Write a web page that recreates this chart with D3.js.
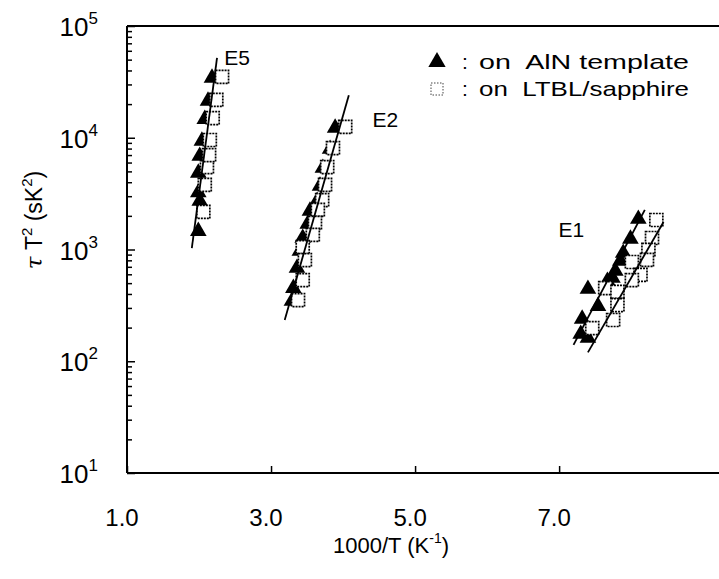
<!DOCTYPE html>
<html>
<head>
<meta charset="utf-8">
<script src="https://cdn.jsdelivr.net/npm/d3@7"></script>
<style>
	body { margin: 0; background: #fff; }
	text { font-family: "Liberation Sans", Arial, sans-serif; fill: #000; }
</style>
</head>
<body>
<script>
// values: [1000/T, tau*T^2]
var e5Tri = [[1.99,1490],[1.99,3300],[2.01,2770],[1.99,4940],[2.01,7000],[2.04,9550],[2.08,15000],[2.125,21800],[2.18,35000]];
var e5Sq  = [[2.06,2170],[2.08,3780],[2.11,5470],[2.14,7000],[2.15,9550],[2.19,15000],[2.24,21800],[2.32,35000]];
var e2Tri = [[3.89,12500],[3.82,8090],[3.72,5470],[3.68,3780],[3.64,2770],[3.54,2260],[3.51,1730],[3.44,1294],[3.40,990],[3.36,697],[3.31,461],[3.29,353]];
var e2Sq  = [[4.03,12500],[3.86,8090],[3.78,5470],[3.75,3780],[3.71,2770],[3.65,2260],[3.61,1730],[3.58,1350],[3.44,1050],[3.47,805],[3.44,533],[3.375,353]];
var e1Tri = [[8.10,1914],[7.99,1268],[7.89,950],[7.85,806],[7.78,656],[7.74,568],[7.67,533],[7.40,452],[7.54,318],[7.32,244],[7.40,165],[7.30,179]];
var e1Sq  = [[8.35,1837],[8.29,1268],[8.24,991],[8.22,806],[8.01,773],[8.13,592],[8.01,533],[7.64,452],[7.81,417],[7.81,318],[7.75,234],[7.46,198]];

// fitted Arrhenius lines, end points
var fits = [
	[[1.90,1030],[2.25,51800]],
	[[3.19,234],[4.08,24000]],
	[[7.20,140],[8.19,2260]],
	[[7.40,120],[8.45,1760]]
];

var levelNames = ["E5","E2","E1"];
var xTicks = [1,3,5,7];
var yDecades = [10,100,1000,10000,100000];
var legendLabels = ["on  AlN template","on  LTBL/sapphire"];

var width = 719, height = 579;

var x = d3.scaleLinear().domain([1, 9.22]).range([127, 719]);
var y = d3.scaleLog().domain([10, 1e5]).range([473, 26]);

var svg = d3.select('body').append('svg')
	.attr('width', width)
	.attr('height', height);

// frame: left, bottom and top lines (right side is cut off in the scan)
var frame = svg.append('g').attr('stroke', '#000').attr('stroke-width', 2).attr('fill', 'none');
frame.append('line').attr('x1', x(1)).attr('x2', x(1)).attr('y1', y(1e5)).attr('y2', y(10));
frame.append('line').attr('x1', x(1)).attr('x2', width).attr('y1', y(10)).attr('y2', y(10));
frame.append('line').attr('x1', x(1)).attr('x2', width).attr('y1', y(1e5)).attr('y2', y(1e5));

// y axis: inside ticks, minor for 2..9
var yMinor = d3.axisLeft(y)
	.tickValues(y.ticks().filter(function (d) { return yDecades.indexOf(d) < 0; }))
	.tickSize(-5)
	.tickFormat('');
var yMajor = d3.axisLeft(y)
	.tickValues(yDecades)
	.tickSize(-8)
	.tickFormat('');

[yMinor, yMajor].forEach(function (ax) {
	var g = svg.append('g')
		.attr('transform', 'translate(' + x(1) + ',0)')
		.call(ax);
	g.select('.domain').remove();
	g.selectAll('.tick line').attr('stroke-width', 1.5);
});

svg.append('g').selectAll('text')
	.data(yDecades)
	.enter().append('text')
	.attr('x', 98)
	.attr('y', function (d) { return y(d) + 10; })
	.attr('text-anchor', 'end')
	.attr('font-size', 26)
	.each(function (d) {
		var t = d3.select(this);
		t.append('tspan').text('10');
		t.append('tspan').attr('font-size', 17).attr('dy', -12).text(Math.round(Math.log10(d)));
	});

// x axis
var xAxis = d3.axisBottom(x)
	.tickValues(xTicks)
	.tickSize(-7)
	.tickFormat('');
var xg = svg.append('g')
	.attr('transform', 'translate(0,' + y(10) + ')')
	.call(xAxis);
xg.select('.domain').remove();
xg.selectAll('.tick line').attr('stroke-width', 1.5);

svg.append('g').selectAll('text')
	.data(xTicks)
	.enter().append('text')
	.attr('x', function (d) { return x(d) - 5; })
	.attr('y', 526)
	.attr('text-anchor', 'middle')
	.attr('font-size', 24)
	.text(function (d) { return d.toFixed(1); });

// axis titles
var xt = svg.append('text')
	.attr('x', 391)
	.attr('y', 553)
	.attr('text-anchor', 'middle')
	.attr('font-size', 22);
xt.append('tspan').text('1000/T (K');
xt.append('tspan').attr('font-size', 14).attr('dy', -10).text('-1');
xt.append('tspan').attr('dy', 10).text(')');

var yt = svg.append('text')
	.attr('transform', 'translate(42,220) rotate(-90)')
	.attr('text-anchor', 'middle')
	.attr('font-size', 23);
yt.append('tspan').attr('font-style', 'italic').attr('font-family', 'DejaVu Serif, serif').text('τ');
yt.append('tspan').text(' T');
yt.append('tspan').attr('font-size', 15).attr('dy', -10).text('2');
yt.append('tspan').attr('dy', 10).text(' (sK');
yt.append('tspan').attr('font-size', 15).attr('dy', -10).text('2');
yt.append('tspan').attr('dy', 10).text(')');

// markers
var tri = d3.symbol().type(d3.symbolTriangle).size(120);
var sq = 13;

var triData = e5Tri.concat(e2Tri, e1Tri);
var sqData = e5Sq.concat(e2Sq, e1Sq);

svg.append('g').selectAll('path')
	.data(triData)
	.enter().append('path')
	.attr('d', tri)
	.attr('transform', function (d) { return 'translate(' + x(d[0]) + ',' + (y(d[1]) + 1) + ')'; })
	.attr('fill', '#000');

svg.append('g').selectAll('rect')
	.data(sqData)
	.enter().append('rect')
	.attr('x', function (d) { return x(d[0]) - sq / 2; })
	.attr('y', function (d) { return y(d[1]) - sq / 2; })
	.attr('width', sq)
	.attr('height', sq)
	.attr('fill', '#fff')
	.attr('stroke', '#000')
	.attr('stroke-width', 1.7)
	.attr('stroke-dasharray', '2,1');

// fit lines over the markers
var line = d3.line()
	.x(function (d) { return x(d[0]); })
	.y(function (d) { return y(d[1]); });

svg.append('g').selectAll('path')
	.data(fits)
	.enter().append('path')
	.attr('d', line)
	.attr('fill', 'none')
	.attr('stroke', '#000')
	.attr('stroke-width', 1.8);

// level labels, anchored in data space
var labelAt = [[2.35, 44800], [4.41, 12500], [6.99, 1294]];
svg.append('g').selectAll('text')
	.data(levelNames)
	.enter().append('text')
	.attr('x', function (d, i) { return x(labelAt[i][0]); })
	.attr('y', function (d, i) { return y(labelAt[i][1]); })
	.attr('font-size', 21)
	.text(function (d) { return d; });

// legend
var lg = svg.append('g').attr('transform', 'translate(437,0)');
lg.append('path')
	.attr('d', d3.symbol().type(d3.symbolTriangle).size(130))
	.attr('transform', 'translate(0,62)');
lg.append('rect')
	.attr('x', -6).attr('y', 83).attr('width', 12).attr('height', 12)
	.attr('fill', 'none')
	.attr('stroke', '#444')
	.attr('stroke-width', 1)
	.attr('stroke-dasharray', '1.5,1.5');

lg.selectAll('text.colon')
	.data(legendLabels)
	.enter().append('text')
	.attr('class', 'colon')
	.attr('x', 25)
	.attr('y', function (d, i) { return 69 + i * 27; })
	.attr('font-size', 21)
	.text(':');

lg.selectAll('text.lab')
	.data(legendLabels)
	.enter().append('text')
	.attr('class', 'lab')
	.attr('x', 42)
	.attr('y', function (d, i) { return 69 + i * 27; })
	.attr('font-size', 21)
	.attr('xml:space', 'preserve')
	.attr('textLength', 210)
	.attr('lengthAdjust', 'spacingAndGlyphs')
	.text(function (d) { return d; });
</script>
</body>
</html>
